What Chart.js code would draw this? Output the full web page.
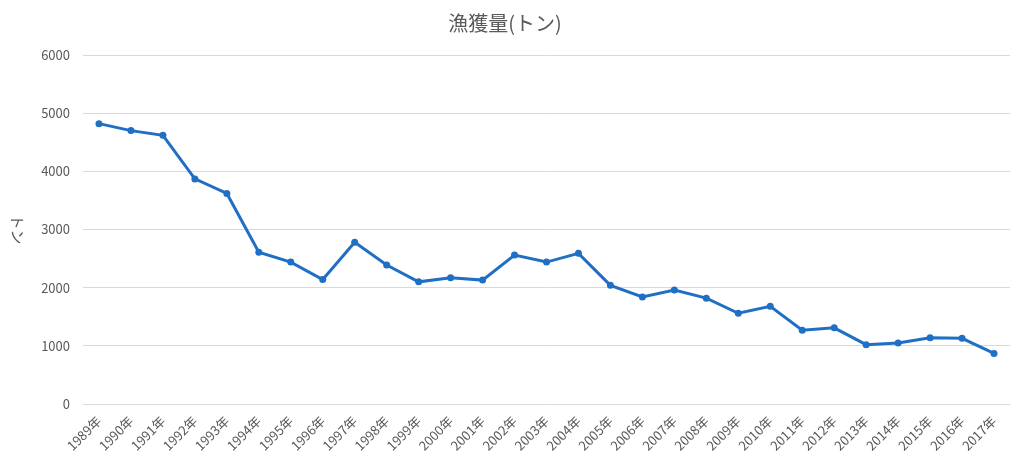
<!DOCTYPE html>
<html>
<head>
<meta charset="utf-8">
<script src="https://cdn.jsdelivr.net/npm/chart.js@4"></script>
<style>
  html, body { margin: 0; padding: 0; background: #fff; }
  #wrap { width: 1024px; height: 466px; }
</style>
</head>
<body>
<div id="wrap"><canvas id="grafica"></canvas></div>
<script>
// === Datos ===
const anios = ['1989年', '1990年', '1991年', '1992年', '1993年', '1994年', '1995年', '1996年',
  '1997年', '1998年', '1999年', '2000年', '2001年', '2002年', '2003年', '2004年', '2005年',
  '2006年', '2007年', '2008年', '2009年', '2010年', '2011年', '2012年', '2013年', '2014年',
  '2015年', '2016年', '2017年'];
const capturas = [4820, 4700, 4620, 3870, 3620, 2610, 2440, 2140, 2780, 2390, 2100, 2170, 2130,
  2560, 2440, 2590, 2040, 1840, 1960, 1820, 1560, 1680, 1270, 1310, 1020, 1050, 1140, 1130, 870];
const marcasY = [0, 1000, 2000, 3000, 4000, 5000, 6000];

const titulo = '漁獲量(トン)';
const tituloEjeY = 'トン';

const FUENTE = '"Noto Sans CJK JP", "Noto Sans", sans-serif';
const GRIS = '#595959';
const AZUL = '#1f6fc4';

// título del eje Y girado en sentido horario
const tituloVertical = {
  id: 'tituloVertical',
  afterDraw(chart) {
    const { ctx, chartArea } = chart;
    ctx.save();
    ctx.translate(18, (chartArea.top + chartArea.bottom) / 2);
    ctx.rotate(Math.PI / 2);
    ctx.font = '15px ' + FUENTE;
    ctx.fillStyle = GRIS;
    ctx.textAlign = 'center';
    ctx.textBaseline = 'middle';
    ctx.fillText(tituloEjeY, 0, 0);
    ctx.restore();
  },
};

new Chart(document.getElementById('grafica'), {
  type: 'line',
  data: {
    labels: anios,
    datasets: [{
      data: capturas,
      borderColor: AZUL,
      backgroundColor: AZUL,
      borderWidth: 3,
      pointRadius: 3.5,
      pointHoverRadius: 3.5,
      pointBorderWidth: 0,
      tension: 0,
      fill: false,
    }],
  },
  options: {
    responsive: true,
    maintainAspectRatio: false,
    animation: false,
    layout: { padding: { left: 0, right: 14, top: 0, bottom: 0 } },
    plugins: {
      legend: { display: false },
      tooltip: { enabled: false },
      title: {
        display: true,
        text: titulo,
        color: GRIS,
        font: { family: FUENTE, size: 20, weight: 'normal' },
        padding: { top: 11, bottom: 20 },
      },
    },
    scales: {
      x: {
        offset: true,
        grid: { display: false },
        border: { display: false },
        ticks: {
          color: GRIS,
          font: { family: FUENTE, size: 13 },
          maxRotation: 45,
          minRotation: 45,
          autoSkip: false,
          padding: 1,
        },
        afterFit(eje) { eje.height = 62; },
      },
      y: {
        min: 0,
        max: 6000,
        afterBuildTicks(eje) { eje.ticks = marcasY.map(v => ({ value: v })); },
        grid: { color: '#d9d9d9', lineWidth: 1, drawTicks: false },
        border: { display: false },
        ticks: {
          color: GRIS,
          font: { family: FUENTE, size: 13 },
          padding: 13,
          callback: v => String(v),
        },
        afterFit(eje) { eje.width = 83; },
      },
    },
  },
  plugins: [tituloVertical],
});
</script>
</body>
</html>
